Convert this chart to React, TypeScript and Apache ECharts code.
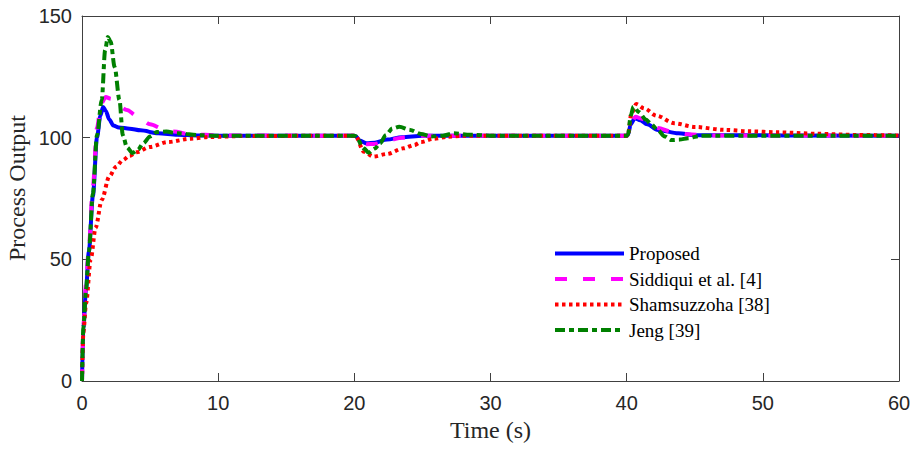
import React, { useEffect, useRef } from "react";
import * as echarts from "echarts";

// ---- Data ----
const xTicks = [0, 10, 20, 30, 40, 50, 60];
const yTicks = [0, 50, 100, 150];

const seriesNames = ["Proposed", "Siddiqui et al. [4]", "Shamsuzzoha [38]", "Jeng [39]"];

const tProposed = [0, 0.1, 0.3, 0.5, 0.8, 1.1, 1.35, 1.55, 1.75, 2.0, 2.3, 2.7, 3.5, 4.3, 5.6, 7, 8.5, 10, 20, 20.1, 20.4, 20.9, 21.5, 22.4, 23.5, 25, 40, 40.1, 40.3, 40.6, 41, 41.5, 42.3, 43.8, 45, 60];
const vProposed = [0, 22, 38, 53, 76, 100, 109, 112.6, 111, 107.5, 105, 104.2, 103.7, 103, 101.8, 101.2, 100.9, 100.8, 100.8, 100.6, 98.8, 97.7, 97.9, 99.2, 100.2, 100.8, 100.8, 101.2, 105.5, 108, 107.2, 105.5, 103.2, 101.8, 101, 100.8];

const tSiddiqui = [0, 0.1, 0.3, 0.5, 0.8, 1.1, 1.4, 1.75, 2.1, 2.5, 3.3, 4, 5, 6, 6.7, 8, 10, 20, 20.1, 20.4, 20.9, 21.5, 22.4, 23.5, 25, 40, 40.1, 40.3, 40.65, 41.1, 41.6, 42.3, 43.3, 44.5, 46, 60];
const vSiddiqui = [0, 23, 40, 55, 80, 104, 114, 116.7, 116, 114, 111.4, 109, 105.5, 103.5, 102.5, 101.4, 100.9, 100.8, 100.6, 98.5, 97.3, 97.4, 98.8, 100, 100.8, 100.8, 101.2, 105.5, 108.6, 107.8, 106, 104, 102.5, 101.4, 100.9, 100.8];

const tShamsuzzoha = [0, 0.1, 0.3, 0.64, 1, 1.45, 2, 2.5, 3, 3.5, 4, 5, 6.3, 8, 9.4, 12, 20, 20.1, 20.7, 21.4, 22.4, 23.6, 24.4, 24.9, 25.8, 26.9, 28, 40, 40.1, 40.35, 40.7, 41.3, 42.2, 43.5, 45, 47.2, 49, 51.1, 54, 57, 60];
const vShamsuzzoha = [0, 20, 32, 50, 63, 74.4, 84, 88, 90.8, 92.6, 94, 96.2, 98.2, 99.6, 100.3, 100.7, 100.8, 100.6, 94.2, 92.2, 93.3, 95.6, 97, 98.2, 99.5, 100.4, 100.8, 100.8, 101.5, 110, 113.8, 112, 109, 105.9, 104.4, 103.2, 102.6, 102.2, 101.6, 101.1, 100.9];

const tJeng = [0, 0.1, 0.3, 0.5, 0.8, 1.1, 1.45, 1.7, 1.9, 2.1, 2.4, 2.75, 3.0, 3.3, 3.7, 4.1, 4.5, 5.0, 5.5, 6.2, 7, 8.7, 10, 20, 20.1, 20.7, 21.05, 21.5, 21.9, 22.3, 22.8, 23.3, 24.1, 24.9, 25.6, 26.5, 27.3, 28.5, 30, 40, 40.1, 40.3, 40.5, 40.9, 41.4, 41.8, 42.3, 42.8, 43.3, 43.9, 44.5, 45.5, 60];
const vJeng = [0, 22, 38, 53, 77, 101, 115.5, 136, 141.4, 139.5, 129, 115.5, 101, 96, 93.7, 95, 97.7, 100.5, 102.3, 102.5, 101.8, 101, 100.8, 100.8, 100.6, 95.6, 93.8, 95.5, 97.7, 101, 103.8, 104.5, 103.2, 101.5, 100.5, 100.8, 101.8, 101.2, 100.8, 100.8, 101.2, 109, 112.7, 110.5, 107.5, 105.5, 103, 100.5, 99, 99.2, 99.8, 100.8, 100.8];

const pair = (t: number[], v: number[]) => t.map((x, i) => [x, v[i]]);

export default function App() {
  const ref = useRef<HTMLDivElement>(null);
  useEffect(() => {
    if (!ref.current) return;
    const chart = echarts.init(ref.current, null, { renderer: "svg" });
    const axisColor = "#404040";
    const labelStyle = { fontFamily: "Liberation Sans", fontSize: 20, color: "#262626" };
    const commonX = {
      type: "value" as const,
      min: xTicks[0],
      max: xTicks[xTicks.length - 1],
      interval: xTicks[1] - xTicks[0],
      splitLine: { show: false },
      axisLine: { show: true, onZero: false, lineStyle: { color: axisColor, width: 1 } },
      axisTick: { show: true, inside: true, length: 8, lineStyle: { color: axisColor } },
    };
    const commonY = {
      type: "value" as const,
      min: yTicks[0],
      max: yTicks[yTicks.length - 1],
      interval: yTicks[1] - yTicks[0],
      splitLine: { show: false },
      axisLine: { show: true, onZero: false, lineStyle: { color: axisColor, width: 1 } },
      axisTick: { show: true, inside: true, length: 8, lineStyle: { color: axisColor } },
    };
    const mk = (name: string, t: number[], v: number[], color: string, type: any, width: number) => ({
      name,
      type: "line" as const,
      data: pair(t, v),
      xAxisIndex: 0,
      yAxisIndex: 0,
      symbol: "none",
      showSymbol: false,
      smooth: 0.3,
      smoothMonotone: "x",
      lineStyle: { color, width, type },
      itemStyle: { color },
      z: 2,
    });
    const legendText = { fontFamily: "Liberation Serif", fontSize: 19, color: "#000", lineHeight: 19 };
    chart.setOption({
      animation: false,
      grid: { left: 82, right: 15, top: 16, bottom: 68, containLabel: false },
      xAxis: [
        {
          ...commonX,
          position: "bottom",
          axisLabel: { ...labelStyle, margin: 12 },
          name: "Time (s)",
          nameLocation: "middle",
          nameGap: 37,
          nameTextStyle: { fontFamily: "Liberation Serif", fontSize: 24, color: "#262626" },
        },
        { ...commonX, position: "top", axisLabel: { show: false } },
      ],
      yAxis: [
        { ...commonY, position: "left", axisLabel: { ...labelStyle, margin: 10 } },
        { ...commonY, position: "right", axisLabel: { show: false } },
      ],
      legend: {
        orient: "vertical",
        left: 553,
        top: 244,
        padding: 0,
        itemWidth: 69,
        itemHeight: 14,
        itemGap: 6.5,
        itemStyle: { opacity: 0 },
        lineStyle: { width: 4 },
        textStyle: legendText,
        data: seriesNames.map((n) => ({ name: n, textStyle: legendText })),
      },
      graphic: [
        {
          type: "text",
          x: 17,
          y: 188,
          rotation: Math.PI / 2,
          style: {
            text: "Process Output",
            font: "24px 'Liberation Serif'",
            fill: "#262626",
            align: "center",
            verticalAlign: "middle",
          },
        },
      ],
      series: [
        mk(seriesNames[0], tProposed, vProposed, "#0000FF", "solid", 4),
        mk(seriesNames[1], tSiddiqui, vSiddiqui, "#FF00FF", [12, 16], 4),
        mk(seriesNames[2], tShamsuzzoha, vShamsuzzoha, "#FF0000", [3.5, 3.5], 4),
        mk(seriesNames[3], tJeng, vJeng, "#008000", [10, 4, 5, 4], 4),
      ],
    });
    return () => chart.dispose();
  }, []);
  return <div ref={ref} style={{ position: "fixed", left: 0, top: 0, width: 914, height: 449, background: "#fff" }} />;
}
